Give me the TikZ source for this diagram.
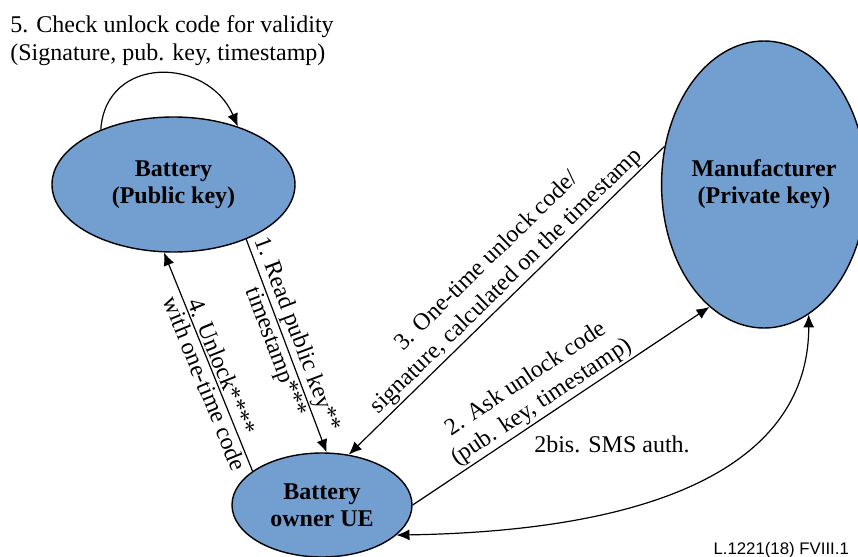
\documentclass[tikz,border=0pt]{standalone}
\usepackage{fontspec}
\setmainfont{Liberation Serif}
\newfontfamily\figfont{Liberation Sans}
\usetikzlibrary{shapes.geometric,arrows.meta}
\definecolor{partyblue}{RGB}{114,159,207}

\begin{document}
\begin{tikzpicture}[x=0.5pt,y=-0.5pt,
    font=\fontsize{12}{14}\selectfont,
    >={Latex[length=6.5pt,width=5.5pt]},
    party/.style={ellipse,draw,fill=partyblue,line width=0.7pt,inner sep=0pt,
      align=center,font=\fontsize{12}{13.5}\selectfont\bfseries},
    msg/.style={->,line width=0.6pt},
    lbl/.style={sloped,inner sep=1pt,align=center}]
    \useasboundingbox (0,0) rectangle (858,557);

    \node[party,minimum width=121.5pt,minimum height=67.5pt] at (173.5,184.5) (battery) {Battery\\(Public key)};
    \node[party,minimum width=90pt,minimum height=52pt] at (322,505) (owner) {Battery\\owner UE};
    \node[party,minimum width=91pt,minimum height=143.5pt] at (764,184.5) (man) {Manufacturer\\(Private key)};

    % step 5: self check on the battery
    \node[align=left,anchor=north west,inner sep=0pt] at (10,15.5) (check) {5. Check unlock code for validity\\(Signature, pub. key, timestamp)};
    \draw[msg] (battery.143) .. controls +(5,-75) and +(-30,-70) .. (battery.42);

    \draw[msg] (battery.-37) -- node[lbl,above,pos=0.47] {1. Read public key**}
      node[lbl,below,pos=0.51] {timestamp***} (owner.85);
    \draw[msg] (owner.154) -- node[lbl,above,pos=0.46] {4. Unlock****}
      node[lbl,below,pos=0.42] {with one-time code} (battery.-98);
    \draw[msg] (man.159) -- node[lbl,above,pos=0.47] {3. One-time unlock code/\\signature, calculated on the timestamp} (owner.62);
    \draw[msg] (owner.0) -- node[lbl,above,pos=0.46] {2. Ask unlock code\\(pub. key, timestamp)} (man.-114);
    \draw[msg,<->] (owner.-22) .. controls +(300,-5) and +(0,130) .. (man.-71);
    \node at (612,444) (sms) {2bis. SMS auth.};

    \node[anchor=base east,font=\figfont\fontsize{8.4}{10}\selectfont] at (856,554) (figid) {L.1221(18) FVIII.1};
\end{tikzpicture}
\end{document}
